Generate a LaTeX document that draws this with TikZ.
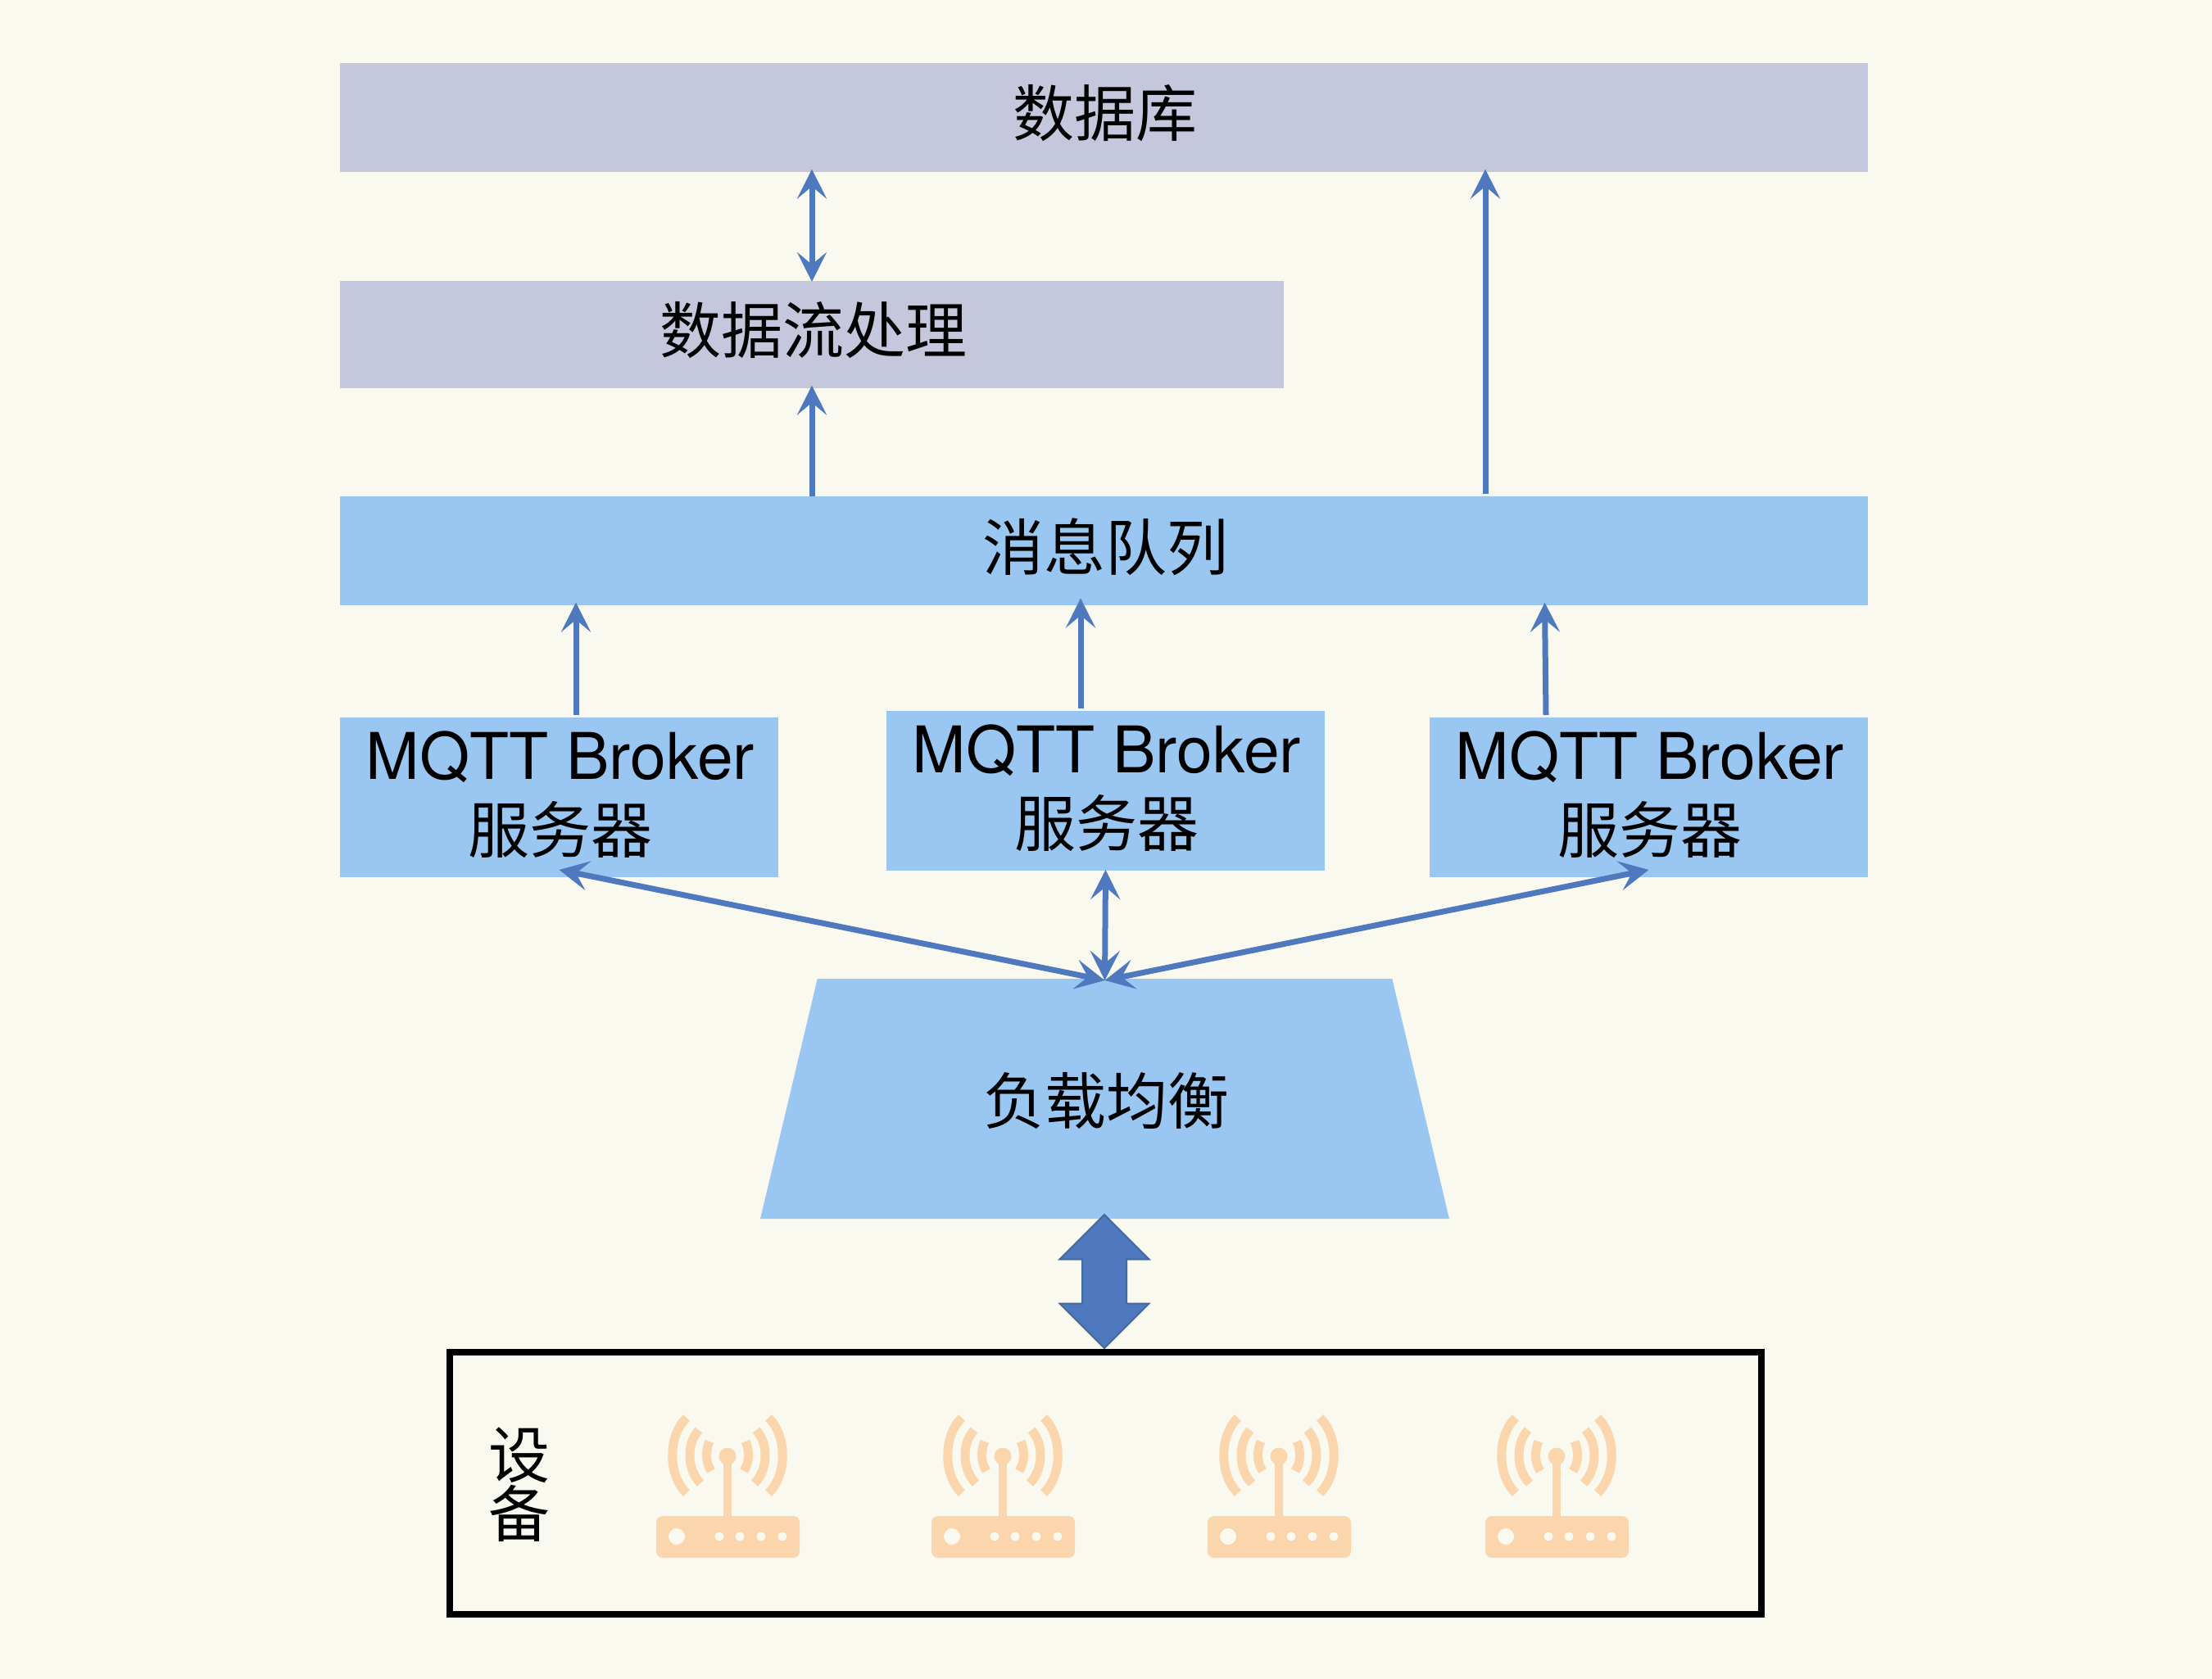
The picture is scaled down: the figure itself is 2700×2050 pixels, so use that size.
\documentclass[tikz,border=0pt]{standalone}
\usepackage{fontspec}
\setmainfont{TeX Gyre Heros}
\newfontfamily\cjk{Noto Sans CJK SC}
\usetikzlibrary{arrows.meta,shapes.geometric,shapes.arrows}
\definecolor{pagebg}{RGB}{250,249,239}
\definecolor{lilacbox}{RGB}{197,199,221}
\definecolor{bluebox}{RGB}{154,199,242}
\definecolor{arrowblue}{RGB}{78,121,191}
\definecolor{arrowedge}{RGB}{70,104,160}
\definecolor{routerfill}{RGB}{251,213,171}
\tikzset{
	box/.style={inner sep=0pt,outer sep=0pt,align=center,font=\cjk\fontsize{37.5}{45}\selectfont},
	lilac/.style={box,fill=lilacbox},
	blue/.style={box,fill=bluebox},
	broker/.style={blue,minimum width=267.5pt,minimum height=97.5pt},
	onearrow/.style={arrowblue,line width=3.5pt,-{Stealth[length=18pt,width=18pt,inset=7.5pt]}},
	twoarrow/.style={arrowblue,line width=3.5pt,{Stealth[length=18pt,width=18pt,inset=7.5pt]}-{Stealth[length=18pt,width=18pt,inset=7.5pt]}},
	router/.pic={
		\foreach \s in {-1,1}{
			\begin{scope}[xscale=\s,routerfill,line width=5.5pt]
				\draw (-50,-47) .. controls (-73,-25) and (-73,23) .. (-50,45);
				\draw (-35,-32) .. controls (-50,-16) and (-50,16) .. (-33,33);
				\draw (-22,-18) .. controls (-27,-8) and (-27,8) .. (-20,18);
			\end{scope}
		}
		\fill[routerfill] (0,0) circle [radius=10.5];
		\draw[routerfill,line width=5pt] (0,0) -- (0,75);
		\fill[routerfill,rounded corners=4pt] (-87,73) rectangle (88,124);
		\fill[pagebg] (-62,98) circle [radius=10];
		\foreach \hx in {-10,15,41,67}
			\fill[pagebg] (\hx,98) circle [radius=5.5];
	}
}
\newcommand{\latin}[1]{{\fontspec{TeX Gyre Heros}\fontsize{39.3}{45}\selectfont #1}}
\newcommand{\lift}[2][2.5pt]{\kern1.5pt\raisebox{#1}[\height][\depth]{#2}}

\begin{document}
\begin{tikzpicture}[x=0.5pt,y=0.5pt,yscale=-1,xscale=1]
	\fill[pagebg] (0,0) rectangle (2700,2050);
	\useasboundingbox (0,0) rectangle (2700,2050);

	% Upper boxes
	\node (db) at (1347.5,143.5) [lilac,minimum width=932.5pt,minimum height=66.5pt] {\lift{数据库}};
	\node (stream) at (991,408.5) [lilac,minimum width=576pt,minimum height=65.5pt] {\lift{数据流处理}};
	\node (mq) at (1347.5,672.5) [blue,minimum width=932.5pt,minimum height=66.5pt] {\lift{消息队列}};

	% Brokers
	\node (broker1) at (682.5,973.5) [broker] {\lift[1.7pt]{\latin{MQTT Broker}}\\\lift[1.7pt]{服务器}};
	\node (broker2) at (1349.5,965.5) [broker] {\lift[1.7pt]{\latin{MQTT Broker}}\\\lift[1.7pt]{服务器}};
	\node (broker3) at (2012.5,973.5) [broker] {\lift[1.7pt]{\latin{MQTT Broker}}\\\lift[1.7pt]{服务器}};

	% Load balancer
	\node (lb) at (1348.5,1341.5) [blue,trapezium,trapezium left angle=66.5,trapezium right angle=66.5,trapezium stretches=true,minimum width=421.5pt,minimum height=146.5pt] {\lift[-1.5pt]{负载均衡}};

	% Devices
	\node (devbox) at (1349.5,1811) [draw=black,line width=4pt,minimum width=800.5pt,minimum height=160pt] {};
	\node (devlabel) at (634,1813) [align=center,font=\cjk\fontsize{37.5}{36}\selectfont] {设\\备};
	\foreach \rx [count=\i] in {888,1224,1561,1900}
		\pic (router\i) [yscale=-1] at (\rx,1778) {router};

	% Connection
	\node (bigarrow) at (1348,1564.5) [double arrow,rotate=90,fill=arrowblue,draw=arrowedge,line width=1pt,inner xsep=0pt,inner ysep=13pt,minimum height=81.5pt,minimum width=53.5pt,double arrow head extend=13.75pt,double arrow head indent=0pt,double arrow tip angle=90] {};
	\draw[twoarrow] ([yshift=-1.7pt]stream.north |- db.south) -- ([yshift=0.5pt]stream.north);
	\draw[onearrow] (stream.south |- mq.north) -- ([yshift=-1.7pt]stream.south);
	\draw[onearrow] ([xshift=232.75pt,yshift=-1.5pt]mq.north) -- ([xshift=232.75pt,yshift=-1.7pt]mq.north |- db.south);
	\draw[onearrow] ([xshift=10.25pt,yshift=-1.5pt]broker1.north) -- ([xshift=10.25pt,yshift=-1.7pt]broker1.north |- mq.south);
	\draw[onearrow] ([xshift=-15.25pt,yshift=-1.5pt]broker2.north) -- ([xshift=-15.25pt,yshift=-4.3pt]broker2.north |- mq.south);
	\draw[onearrow] ([xshift=-62.75pt,yshift=-1.5pt]broker3.north) -- ([xshift=-63.5pt,yshift=-1.7pt]broker3.north |- mq.south);
	\draw[twoarrow] ([yshift=-4.5pt]broker1.south) -- ([yshift=1pt]lb.north);
	\draw[twoarrow] ([yshift=-0.5pt]broker2.south) -- ([yshift=1pt]lb.north);
	\draw[twoarrow] ([yshift=-4.5pt]broker3.south) -- ([yshift=1pt]lb.north);
\end{tikzpicture}
\end{document}
